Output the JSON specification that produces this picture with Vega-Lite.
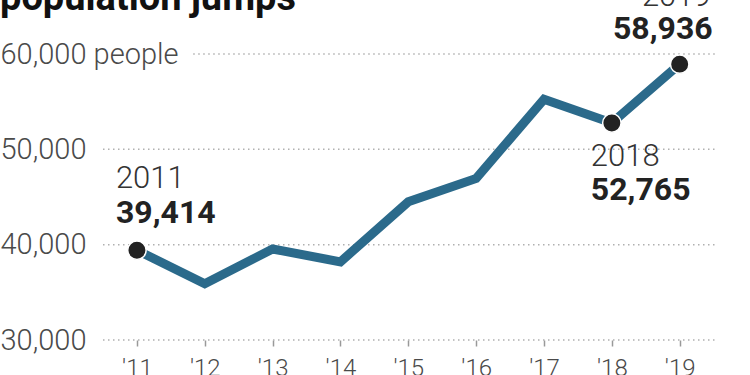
{
  "$schema": "https://vega.github.io/schema/vega-lite/v6.json",
  "width": 614,
  "height": 286,
  "autosize": "none",
  "padding": {"left": 103, "top": 54, "right": 33, "bottom": 35},
  "background": "white",
  "config": {"view": {"stroke": null}, "font": "Roboto"},
  "title": {
    "text": "population jumps",
    "anchor": "start",
    "frame": "bounds",
    "fontSize": 38,
    "fontWeight": "bold",
    "color": "#111111",
    "font": "Roboto",
    "offset": 0,
    "dy": 37
  },
  "datasets": {
    "pop": [
      {"year": 2011, "value": 39414},
      {"year": 2012, "value": 35900},
      {"year": 2013, "value": 39550},
      {"year": 2014, "value": 38200},
      {"year": 2015, "value": 44500},
      {"year": 2016, "value": 46950},
      {"year": 2017, "value": 55250},
      {"year": 2018, "value": 52765},
      {"year": 2019, "value": 58936}
    ],
    "grid": [{"v": 30000}, {"v": 40000}, {"v": 50000}],
    "gridTop": [{"v": 60000}]
  },
  "layer": [
    {
      "data": {"name": "grid"},
      "mark": {"type": "rule", "color": "#b0b0b0", "strokeWidth": 1.5, "strokeDash": [1.5, 3.5]},
      "encoding": {
        "y": {"field": "v", "type": "quantitative", "scale": {"domain": [30000, 60000], "nice": false, "zero": false},
          "axis": {"values": [30000, 40000, 50000, 60000], "labelExpr": "datum.value == 60000 ? '60,000 people' : datum.label", "labelAlign": "left", "labelPadding": 103, "labelLimit": 400, "ticks": false, "tickSize": 0, "domain": false, "grid": false, "title": null, "labelFontSize": 29, "labelColor": "#4a4a4a", "labelFont": "Roboto", "labelFontWeight": 300}},
        "x": {"datum": 2010.5, "type": "quantitative"},
        "x2": {"datum": 2019.55}
      }
    },
    {
      "data": {"name": "gridTop"},
      "mark": {"type": "rule", "color": "#b0b0b0", "strokeWidth": 1.5, "strokeDash": [1.5, 3.5]},
      "encoding": {
        "y": {"field": "v", "type": "quantitative"},
        "x": {"datum": 2011.83, "type": "quantitative"},
        "x2": {"datum": 2019.55}
      }
    },
    {
      "data": {"name": "pop"},
      "layer": [
        {
          "mark": {"type": "line", "color": "#2b6a8b", "strokeWidth": 9, "strokeJoin": "miter"},
          "encoding": {
            "x": {"field": "year", "type": "quantitative", "scale": {"domain": [2010.5, 2019.55], "nice": false, "zero": false},
              "axis": {"values": [2011, 2012, 2013, 2014, 2015, 2016, 2017, 2018, 2019], "labelExpr": "\"'\" + substring(toString(datum.value), 2)", "domain": false, "grid": false, "ticks": true, "tickSize": 6, "tickColor": "#999999", "tickWidth": 1.5, "labelPadding": 10, "labelFontSize": 24, "labelColor": "#4a4a4a", "labelFont": "Roboto", "labelFontWeight": 300, "title": null}},
            "y": {"field": "value", "type": "quantitative"}
          }
        },
        {
          "transform": [{"filter": "datum.year == 2011 || datum.year >= 2018"}],
          "mark": {"type": "point", "filled": true, "fill": "#222222", "stroke": "white", "strokeWidth": 1.5, "size": 340, "opacity": 1},
          "encoding": {
            "x": {"field": "year", "type": "quantitative"},
            "y": {"field": "value", "type": "quantitative"}
          }
        },
        {
          "transform": [{"filter": "datum.year == 2011"}],
          "layer": [
            {"mark": {"type": "text", "align": "left", "baseline": "alphabetic", "dx": -21, "dy": -62, "fontSize": 31, "fontWeight": 300, "color": "#333333"},
              "encoding": {"x": {"field": "year", "type": "quantitative"}, "y": {"field": "value", "type": "quantitative"}, "text": {"field": "year", "type": "quantitative", "format": "d"}}},
            {"mark": {"type": "text", "align": "left", "baseline": "alphabetic", "dx": -21, "dy": -27, "fontSize": 32, "fontWeight": "bold", "color": "#222222"},
              "encoding": {"x": {"field": "year", "type": "quantitative"}, "y": {"field": "value", "type": "quantitative"}, "text": {"field": "value", "type": "quantitative", "format": ","}}}
          ]
        },
        {
          "transform": [{"filter": "datum.year == 2018"}],
          "layer": [
            {"mark": {"type": "text", "align": "left", "baseline": "alphabetic", "dx": -21, "dy": 43, "fontSize": 31, "fontWeight": 300, "color": "#333333"},
              "encoding": {"x": {"field": "year", "type": "quantitative"}, "y": {"field": "value", "type": "quantitative"}, "text": {"field": "year", "type": "quantitative", "format": "d"}}},
            {"mark": {"type": "text", "align": "left", "baseline": "alphabetic", "dx": -21, "dy": 77, "fontSize": 32, "fontWeight": "bold", "color": "#222222"},
              "encoding": {"x": {"field": "year", "type": "quantitative"}, "y": {"field": "value", "type": "quantitative"}, "text": {"field": "value", "type": "quantitative", "format": ","}}}
          ]
        },
        {
          "transform": [{"filter": "datum.year == 2019"}],
          "layer": [
            {"mark": {"type": "text", "align": "right", "baseline": "alphabetic", "dx": 31, "dy": -58, "fontSize": 31, "fontWeight": 300, "color": "#333333"},
              "encoding": {"x": {"field": "year", "type": "quantitative"}, "y": {"field": "value", "type": "quantitative"}, "text": {"field": "year", "type": "quantitative", "format": "d"}}},
            {"mark": {"type": "text", "align": "right", "baseline": "alphabetic", "dx": 33, "dy": -25, "fontSize": 32, "fontWeight": "bold", "color": "#222222"},
              "encoding": {"x": {"field": "year", "type": "quantitative"}, "y": {"field": "value", "type": "quantitative"}, "text": {"field": "value", "type": "quantitative", "format": ","}}}
          ]
        }
      ]
    }
  ]
}
